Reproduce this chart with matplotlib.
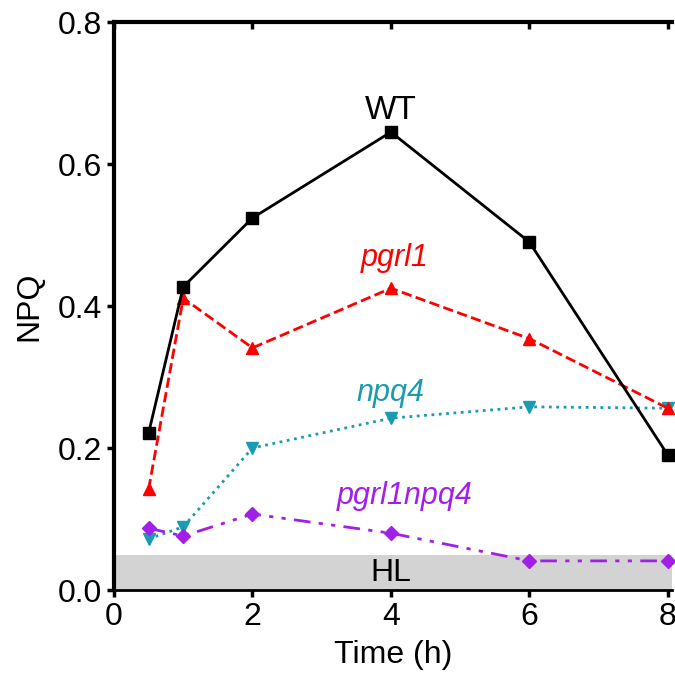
import matplotlib.pyplot as plt

plt.rcParams['font.family'] = ['Liberation Sans', 'DejaVu Sans']

time_h = [0.5, 1, 2, 4, 6, 8]
wt = [0.221, 0.427, 0.524, 0.645, 0.490, 0.190]
pgrl1 = [0.142, 0.411, 0.341, 0.425, 0.354, 0.256]
npq4 = [0.072, 0.089, 0.200, 0.242, 0.258, 0.256]
pgrl1npq4 = [0.087, 0.076, 0.107, 0.080, 0.041, 0.041]
hl_level = 0.05

red = '#ff0000'
teal = '#1a9bb2'
purple = '#a21fe8'

fig = plt.figure(figsize=(6.75, 6.79), dpi=100)
ax = fig.add_axes([114/675, 1-590/679, (672-114)/675, (590-22)/679])

ax.axhspan(0, hl_level, color='#d3d3d3', zorder=0, lw=0)
ax.text(4, 0.024, 'HL', ha='center', va='center', fontsize=23)

ax.plot(time_h, wt, '-', color='black', lw=2, marker='s', ms=8, clip_on=False, zorder=5)
ax.plot(time_h, pgrl1, '--', color=red, lw=2, marker='^', ms=8, clip_on=False, zorder=4)
ax.plot(time_h, npq4, ':', color=teal, lw=2, marker='v', ms=8, clip_on=False, zorder=3)
ax.plot(time_h, pgrl1npq4, '-.', color=purple, lw=2, marker='D', ms=7,
        dashes=(6, 3, 1.5, 3, 1.5, 3), clip_on=False, zorder=3)

ax.text(4, 0.675, 'WT', ha='center', va='center', fontsize=24)
ax.text(4.05, 0.468, 'pgrl1', ha='center', va='center', fontsize=22, color=red, style='italic')
ax.text(4.0, 0.277, 'npq4', ha='center', va='center', fontsize=22, color=teal, style='italic')
ax.text(4.2, 0.132, 'pgrl1npq4', ha='center', va='center', fontsize=22, color=purple, style='italic')

ax.set_xlim(0, 8.06)
ax.set_ylim(0, 0.8)
ax.set_xticks([0, 2, 4, 6, 8])
ax.set_yticks([0.0, 0.2, 0.4, 0.6, 0.8])
ax.set_yticklabels(['0.0', '0.2', '0.4', '0.6', '0.8'])
ax.set_xlabel('Time (h)', fontsize=23, labelpad=6)
ax.set_ylabel('NPQ', fontsize=23, labelpad=10)

ax.spines['right'].set_visible(False)
ax.spines['left'].set_linewidth(3)
ax.spines['top'].set_linewidth(3)
ax.spines['bottom'].set_linewidth(2)
ax.tick_params(axis='both', labelsize=23, width=2.5, length=5, direction='out')

# small inward ticks along the top border
top = ax.twiny()
top.set_xlim(ax.get_xlim())
top.set_xticks([0, 2, 4, 6, 8])
top.tick_params(axis='x', direction='in', length=5, width=2.5, labeltop=False)
for s in top.spines.values():
    s.set_visible(False)

plt.savefig('out.png', dpi=100)
